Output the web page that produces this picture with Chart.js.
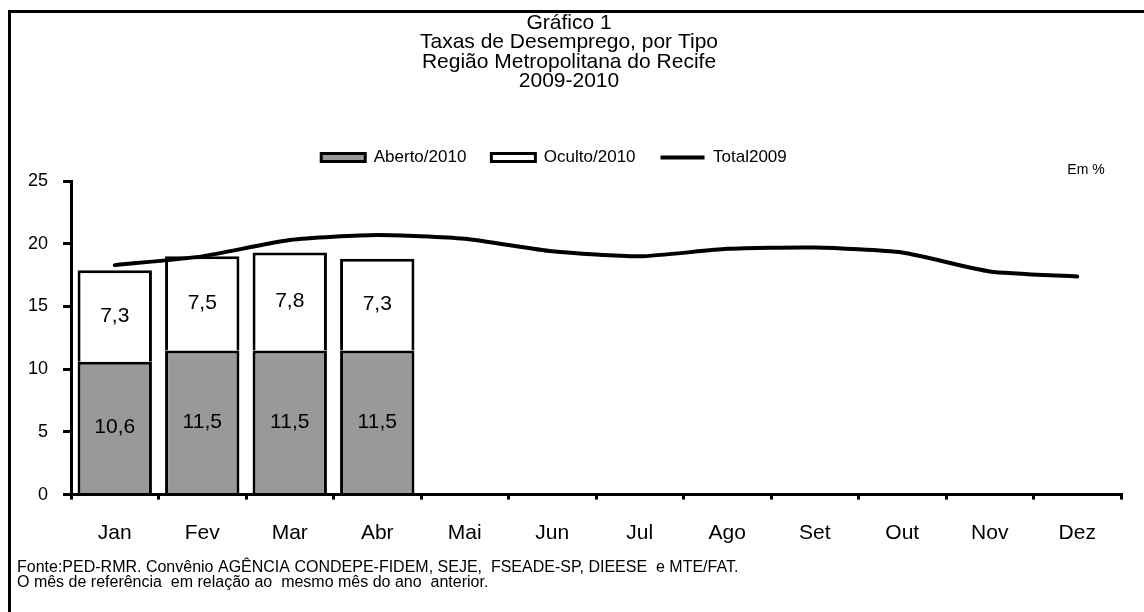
<!DOCTYPE html>
<html lang="pt">

<head>
    <meta charset="UTF-8">
    <title>Gráfico 1</title>
    <style>
        body { margin: 0; background: #fff; }
        #wrap { width: 1144px; height: 612px; }
    </style>
</head>

<body>
    <div id="wrap"><canvas id="myChart" width="1144" height="612"></canvas></div>

    <script src="https://cdn.jsdelivr.net/npm/chart.js"></script>
    <script>
        // données
        const meses = ['Jan', 'Fev', 'Mar', 'Abr', 'Mai', 'Jun', 'Jul', 'Ago', 'Set', 'Out', 'Nov', 'Dez'];
        const aberto2010 = [10.6, 11.5, 11.5, 11.5];
        const oculto2010 = [7.3, 7.5, 7.8, 7.3];
        const total2009 = [18.3, 19.0, 20.3, 20.7, 20.4, 19.4, 19.0, 19.6, 19.7, 19.3, 17.8, 17.4];
        const titulo = ['Gráfico 1', 'Taxas de Desemprego, por Tipo', 'Região Metropolitana do Recife', '2009-2010'];
        const fonte = ['Fonte:PED-RMR. Convênio AGÊNCIA CONDEPE-FIDEM, SEJE,  FSEADE-SP, DIEESE  e MTE/FAT.',
            'O mês de referência  em relação ao  mesmo mês do ano  anterior.'];

        const FONT = '"Liberation Sans", Arial, sans-serif';
        Chart.defaults.font.family = FONT;
        Chart.defaults.color = '#000';

        // étiquettes dans les barres
        const barLabels = {
            id: 'barLabels',
            afterDatasetsDraw(chart) {
                const ctx = chart.ctx;
                ctx.save();
                ctx.font = '21px ' + FONT;
                ctx.fillStyle = '#000';
                ctx.textAlign = 'center';
                ctx.textBaseline = 'middle';
                chart.data.datasets.forEach(function(ds, i) {
                    if (ds.type !== 'bar') return;
                    chart.getDatasetMeta(i).data.forEach(function(el, j) {
                        const p = el.getCenterPoint();
                        ctx.fillText(ds.data[j].toFixed(1).replace('.', ','), p.x, p.y);
                    });
                });
                ctx.restore();
            }
        };

        // cadre + "Em %" + petit décalage de la légende
        const extras = {
            id: 'extras',
            beforeInit(chart) {
                const fit = chart.legend.fit;
                chart.legend.fit = function() {
                    fit.bind(chart.legend)();
                    this.height += 5;
                };
            },
            afterLayout(chart) {
                chart.legend.left -= 15;
                chart.legend.right -= 15;
            },
            afterDraw(chart) {
                const ctx = chart.ctx;
                ctx.save();
                ctx.strokeStyle = '#000';
                ctx.lineWidth = 3;
                ctx.beginPath();
                ctx.moveTo(9.5, 612);
                ctx.lineTo(9.5, 11.5);
                ctx.lineTo(1144, 11.5);
                ctx.stroke();
                ctx.font = '14px ' + FONT;
                ctx.fillStyle = '#000';
                ctx.textAlign = 'center';
                ctx.textBaseline = 'middle';
                ctx.fillText('Em %', 1086, 170);
                ctx.restore();
            }
        };

        const ctx = document.getElementById('myChart').getContext('2d');
        const myChart = new Chart(ctx, {
            data: {
                labels: meses,
                datasets: [{
                    type: 'line',
                    label: 'Total2009',
                    data: total2009,
                    borderColor: '#000',
                    borderWidth: 4,
                    borderCapStyle: 'round',
                    tension: 0.2,
                    pointRadius: 0,
                    pointStyle: 'line',
                    pointBorderWidth: 4,
                    pointBorderColor: '#000',
                    pointBackgroundColor: '#000',
                    order: 0
                }, {
                    type: 'bar',
                    label: 'Aberto/2010',
                    data: aberto2010,
                    backgroundColor: '#999999',
                    borderColor: '#000',
                    borderWidth: 3,
                    pointStyle: 'rect',
                    stack: 's',
                    order: 1
                }, {
                    type: 'bar',
                    label: 'Oculto/2010',
                    data: oculto2010,
                    backgroundColor: '#ffffff',
                    borderColor: '#000',
                    borderWidth: 3,
                    pointStyle: 'rect',
                    stack: 's',
                    order: 1
                }]
            },
            options: {
                responsive: false,
                animation: false,
                barPercentage: 0.85,
                categoryPercentage: 1,
                layout: { padding: { left: 17, right: 23, top: 0, bottom: 0 } },
                plugins: {
                    title: {
                        display: true,
                        text: titulo,
                        font: { size: 21, weight: 'normal', lineHeight: 0.93 },
                        padding: { top: 13, bottom: 33 }
                    },
                    subtitle: {
                        display: true,
                        text: fonte,
                        position: 'bottom',
                        align: 'start',
                        font: { size: 16, lineHeight: 0.95 },
                        padding: { top: 0, bottom: 22 }
                    },
                    legend: {
                        labels: {
                            sort: function(a, b) { return (a.datasetIndex + 2) % 3 - (b.datasetIndex + 2) % 3; },
                            usePointStyle: true,
                            pointStyleWidth: 44,
                            boxHeight: 8,
                            padding: 25,
                            font: { size: 17 }
                        }
                    },
                    tooltip: { enabled: false }
                },
                scales: {
                    x: {
                        stacked: true,
                        afterFit: function(scale) { scale.height = 65; },
                        border: { color: '#000', width: 3 },
                        grid: { drawOnChartArea: false, color: '#000', lineWidth: 3, tickLength: 5 },
                        ticks: { padding: 21, font: { size: 21 } }
                    },
                    y: {
                        stacked: true,
                        min: 0,
                        max: 25,
                        afterFit: function(scale) { scale.width = 54; },
                        border: { color: '#000', width: 3 },
                        grid: { drawOnChartArea: false, color: '#000', lineWidth: 3, tickLength: 8 },
                        ticks: { stepSize: 5, padding: 15, font: { size: 18 } }
                    }
                }
            },
            plugins: [barLabels, extras]
        });
    </script>
</body>

</html>
